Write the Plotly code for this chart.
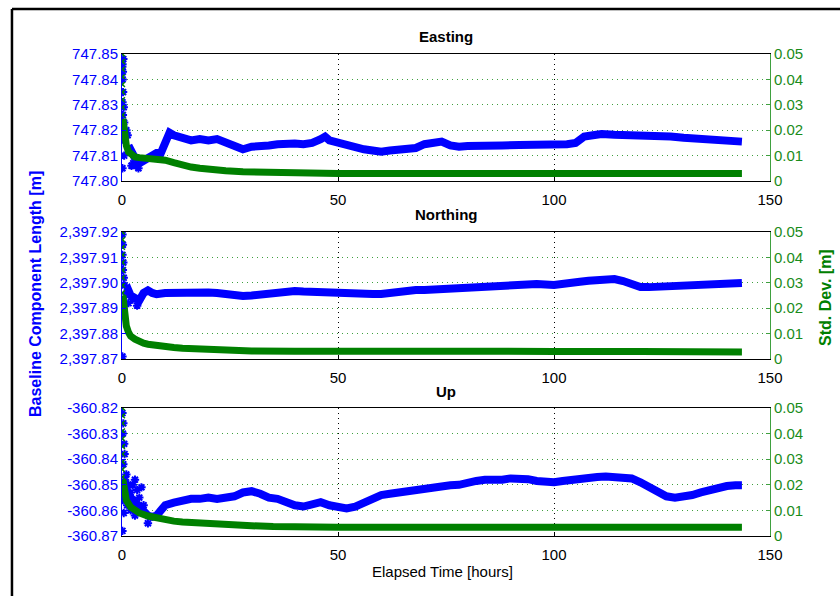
import plotly.graph_objects as go

# ---------------- DATA ----------------
x_ticks = [0, 50, 100, 150]
std_ticks = [0, 0.01, 0.02, 0.03, 0.04, 0.05]
std_ticktext = ["0", "0.01", "0.02", "0.03", "0.04", "0.05"]

east_ticks = [747.80, 747.81, 747.82, 747.83, 747.84, 747.85]
north_ticks = [2397.87, 2397.88, 2397.89, 2397.90, 2397.91, 2397.92]
up_ticks = [-360.87, -360.86, -360.85, -360.84, -360.83, -360.82]
up_ticktext = ["-360.87", "-360.86", "-360.85", "-360.84", "-360.83", "-360.82"]

# Easting
east_hours = [1.5, 2, 3, 4, 5, 6, 7, 8, 9, 10, 11, 12, 14, 16, 18, 20, 22, 24, 26, 28, 30, 32, 34, 36,
              38, 40, 42, 44, 46, 47, 48, 50, 52, 54, 56, 58, 60, 62, 64, 66, 68, 70, 72, 74, 76, 78,
              80, 84, 88, 92, 96, 100, 103, 105, 107, 109, 111, 114, 117, 120, 123, 125, 127, 130,
              133, 136, 139, 141, 143.5]
east_len = [747.814, 747.812, 747.809, 747.807, 747.808, 747.809, 747.810, 747.811, 747.811, 747.815,
            747.819, 747.818, 747.817, 747.816, 747.8165, 747.816, 747.8165, 747.815, 747.814, 747.8125,
            747.8135, 747.8135, 747.814, 747.8145, 747.815, 747.8148, 747.8145, 747.815, 747.8165,
            747.8175, 747.816, 747.815, 747.8145, 747.8135, 747.8125, 747.812, 747.8115, 747.812,
            747.8125, 747.8125, 747.813, 747.8145, 747.815, 747.8155, 747.814, 747.8135, 747.8138,
            747.8142, 747.814, 747.8142, 747.8142, 747.8143, 747.8145, 747.815, 747.8175, 747.818,
            747.8185, 747.8182, 747.818, 747.8178, 747.818, 747.8182, 747.8175, 747.817, 747.8168,
            747.8165, 747.8165, 747.816, 747.8155]
east_early_hours = [0.05, 0.1, 0.2, 0.3, 0.15, 0.25, 0.1, 0.4, 0.2, 0.5, 0.1, 0.3, 0.6, 1.0, 1.3, 0.5,
                    2.2, 2.6, 3.3, 3.8]
east_early_len = [747.845, 747.846, 747.843, 747.848, 747.840, 747.835, 747.831, 747.829, 747.826,
                  747.823, 747.805, 747.818, 747.816, 747.820, 747.818, 747.810, 747.806, 747.807,
                  747.806, 747.805]
east_std_hours = [0.2, 0.5, 1, 1.5, 2, 3, 4, 6, 8, 10, 12, 14, 16, 18, 20, 24, 28, 32, 36, 40, 50, 60,
                  70, 80, 90, 100, 110, 120, 130, 143.5]
east_std = [0.0245, 0.019, 0.014, 0.0115, 0.0105, 0.0095, 0.0092, 0.009, 0.0088, 0.0082, 0.0072,
            0.0062, 0.0055, 0.005, 0.0045, 0.004, 0.0036, 0.0034, 0.0032, 0.0031, 0.003, 0.003, 0.003,
            0.003, 0.003, 0.003, 0.003, 0.0029, 0.0029, 0.003]
east_std_early = [0.05, 0.047, 0.044, 0.041, 0.038, 0.035, 0.032, 0.029, 0.026]

# Northing
north_hours = [0.5, 1, 1.5, 2, 3, 4, 5, 6, 7, 8, 10, 12, 14, 16, 18, 20, 22, 24, 26, 28, 30, 32, 34, 36,
               38, 40, 42, 44, 46, 48, 50, 52, 54, 56, 58, 60, 62, 64, 66, 68, 70, 72, 74, 76, 78, 80,
               84, 88, 92, 96, 100, 102, 104, 106, 108, 110, 112, 114, 116, 118, 120, 122, 124, 126,
               128, 130, 134, 138, 141, 143.5]
north_len = [2397.897, 2397.896, 2397.897, 2397.895, 2397.894, 2397.893, 2397.896, 2397.897, 2397.896,
             2397.8955, 2397.896, 2397.8962, 2397.8958, 2397.8962, 2397.8965, 2397.8962, 2397.896,
             2397.8955, 2397.895, 2397.8948, 2397.895, 2397.8955, 2397.896, 2397.8962, 2397.8965,
             2397.8968, 2397.8966, 2397.8964, 2397.8962, 2397.8963, 2397.8964, 2397.896, 2397.8958,
             2397.8955, 2397.8956, 2397.8956, 2397.896, 2397.8966, 2397.8972, 2397.8972, 2397.8972,
             2397.8974, 2397.8976, 2397.8978, 2397.8978, 2397.898, 2397.8987, 2397.8987, 2397.899,
             2397.8995, 2397.8991, 2397.8993, 2397.8999, 2397.9004, 2397.9008, 2397.9011, 2397.9015,
             2397.9015, 2397.9007, 2397.8995, 2397.8983, 2397.8983, 2397.8984, 2397.8985, 2397.8988,
             2397.8991, 2397.8995, 2397.8998, 2397.8999, 2397.8999]
north_early_hours = [0.1, 0.2, 0.1, 0.3, 0.2, 0.4, 0.1, 0.3, 0.5, 0.2, 0.6, 1.5, 2.5, 3.5]
north_early_len = [2397.919, 2397.915, 2397.911, 2397.908, 2397.905, 2397.902, 2397.871, 2397.893,
                   2397.891, 2397.889, 2397.899, 2397.892, 2397.8935, 2397.891]
north_std_hours = [0.2, 0.5, 1, 1.5, 2, 3, 4, 5, 6, 8, 10, 12, 14, 16, 20, 25, 30, 40, 50, 60, 80, 100,
                   120, 127, 128, 143.5]
north_std = [0.025, 0.019, 0.013, 0.0105, 0.009, 0.0078, 0.0068, 0.0062, 0.0058, 0.0052, 0.0048,
             0.0045, 0.0042, 0.004, 0.0036, 0.0034, 0.0032, 0.0031, 0.003, 0.003, 0.003, 0.003, 0.003,
             0.003, 0.0028, 0.0028]
north_std_early = [0.05, 0.047, 0.044, 0.041, 0.038, 0.035, 0.032, 0.029, 0.026]

# Up
up_hours = [0.5, 1, 2, 3, 4, 5, 6, 7, 8, 9, 10, 12, 14, 16, 18, 20, 22, 24, 26, 28, 30, 32, 34, 36, 38,
            40, 42, 44, 46, 48, 50, 52, 54, 56, 58, 60, 62, 64, 66, 68, 70, 72, 74, 76, 78, 80, 82, 84,
            86, 88, 90, 92, 94, 96, 98, 100, 102, 104, 106, 108, 110, 112, 114, 116, 118, 120, 122,
            124, 126, 128, 130, 132, 134, 136, 138, 140, 142, 143.5]
up_len = [-360.848, -360.852, -360.855, -360.857, -360.858, -360.860, -360.862, -360.8625, -360.862,
          -360.860, -360.858, -360.857, -360.856, -360.8555, -360.8555, -360.855, -360.8555, -360.855,
          -360.8545, -360.853, -360.8525, -360.8535, -360.855, -360.8555, -360.857, -360.858,
          -360.8585, -360.8575, -360.8568, -360.858, -360.859, -360.8592, -360.8585, -360.857,
          -360.855, -360.854, -360.8535, -360.853, -360.852, -360.8518, -360.851, -360.851,
          -360.8505, -360.8502, -360.850, -360.849, -360.8485, -360.848, -360.8482, -360.848,
          -360.8475, -360.8475, -360.8478, -360.8485, -360.849, -360.849, -360.8485, -360.848,
          -360.8475, -360.847, -360.847, -360.8468, -360.8468, -360.847, -360.8475, -360.849,
          -360.851, -360.853, -360.8545, -360.855, -360.8548, -360.854, -360.853, -360.852, -360.851,
          -360.8505, -360.8502, -360.8502]
up_early_hours = [0.1, 0.3, 0.2, 0.5, 0.6, 0.3, 0.1, 0.4, 0.2, 0.7, 1.0, 1.5, 2.0, 2.5, 3.0, 3.5, 4.0,
                  4.5, 5.0, 3.0, 2.0, 6.0, 1.2]
up_early_len = [-360.822, -360.826, -360.830, -360.834, -360.838, -360.842, -360.868, -360.861,
                -360.856, -360.848, -360.846, -360.850, -360.853, -360.850, -360.848, -360.852,
                -360.855, -360.851, -360.858, -360.862, -360.860, -360.865, -360.858]
up_std_hours = [0.2, 0.5, 1, 2, 3, 4, 6, 8, 10, 12, 14, 17, 20, 25, 30, 35, 40, 50, 60, 80, 100, 120,
                143.5]
up_std = [0.022, 0.018, 0.014, 0.0113, 0.0098, 0.009, 0.0078, 0.007, 0.0063, 0.0058, 0.0055, 0.0051,
          0.0048, 0.0044, 0.004, 0.0037, 0.0035, 0.0034, 0.0034, 0.0034, 0.0034, 0.0034, 0.0034]
up_std_early = [0.05, 0.047, 0.044, 0.041, 0.038, 0.035, 0.032, 0.029, 0.026, 0.023]

panel_titles = ["Easting", "Northing", "Up"]

# ---------------- STYLE ----------------
BLUE = "#0000ff"
GREEN = "#008000"
GREEN_TXT = "#1a8c1a"
GREEN_LINE = "#3fa03f"
FONT = "Liberation Sans, Arial, sans-serif"

fig = go.Figure()

panels = [
    dict(h=east_hours, v=east_len, eh=east_early_hours, ev=east_early_len,
         sh=east_std_hours, s=east_std, se=east_std_early, ticks=east_ticks,
         text=None, fmt=".2f"),
    dict(h=north_hours, v=north_len, eh=north_early_hours, ev=north_early_len,
         sh=north_std_hours, s=north_std, se=north_std_early, ticks=north_ticks,
         text=None, fmt=",.2f"),
    dict(h=up_hours, v=up_len, eh=up_early_hours, ev=up_early_len,
         sh=up_std_hours, s=up_std, se=up_std_early, ticks=up_ticks,
         text=up_ticktext, fmt=".2f"),
]

domains = [[0.7365, 1.0], [0.3672, 0.6307], [0.0, 0.2656]]

for i, p in enumerate(panels):
    xa = "x" if i == 0 else f"x{i+1}"
    ya = "y" if i == 0 else f"y{i+1}"
    yr = f"y{i+4}"
    fig.add_trace(go.Scatter(x=p["h"], y=p["v"], mode="lines", xaxis=xa, yaxis=ya,
                             line=dict(color=BLUE, width=8), showlegend=False, hoverinfo="skip"))
    fig.add_trace(go.Scatter(x=p["eh"], y=p["ev"], mode="markers", xaxis=xa, yaxis=ya,
                             marker=dict(symbol="asterisk-open", size=7, color=BLUE,
                                         line=dict(color=BLUE, width=2)),
                             showlegend=False, hoverinfo="skip"))
    fig.add_trace(go.Scatter(x=p["sh"], y=p["s"], mode="lines", xaxis=xa, yaxis=yr,
                             line=dict(color=GREEN, width=7), showlegend=False, hoverinfo="skip"))
    fig.add_trace(go.Scatter(x=[0.1] * len(p["se"]), y=p["se"], mode="markers", xaxis=xa, yaxis=yr,
                             marker=dict(symbol="x-thin-open", size=5, color=GREEN,
                                         line=dict(color=GREEN, width=1.5)),
                             showlegend=False, hoverinfo="skip"))

    xkey = "xaxis" if i == 0 else f"xaxis{i+1}"
    ykey = "yaxis" if i == 0 else f"yaxis{i+1}"
    rkey = f"yaxis{i+4}"
    fig.layout[xkey] = dict(domain=[0, 1], anchor=ya, range=[0, 150], tickvals=x_ticks,
                            showgrid=True, gridcolor="#000000", griddash="1px,4px", gridwidth=1,
                            showline=True, linecolor="#000000", linewidth=1, mirror=True,
                            ticks="inside", ticklen=4, tickcolor="#000000", automargin=False,
                            ticklabelstandoff=5,
                            tickfont=dict(family=FONT, size=15, color="#000000"), zeroline=False)
    ydict = dict(domain=domains[i], anchor=xa, range=[p["ticks"][0], p["ticks"][-1]],
                 tickvals=p["ticks"], tickformat=p["fmt"], showgrid=False,
                 showline=True, linecolor=BLUE, linewidth=1, ticks="inside",
                 ticklen=4, tickcolor=BLUE, automargin=False,
                 tickfont=dict(family=FONT, size=15, color=BLUE), zeroline=False)
    if p["text"] is not None:
        ydict["ticktext"] = p["text"]
    fig.layout[ykey] = ydict
    fig.layout[rkey] = dict(overlaying=ya, side="right", anchor=xa, range=[0, 0.05],
                            tickvals=std_ticks, ticktext=std_ticktext, showgrid=True,
                            gridcolor=GREEN_LINE, griddash="1px,4px", gridwidth=1,
                            showline=True, linecolor=GREEN_LINE, linewidth=1, ticks="inside",
                            ticklen=4, tickcolor=GREEN_LINE, automargin=False,
                            tickfont=dict(family=FONT, size=15, color=GREEN_TXT), zeroline=False)

annotations = []
title_y = [1.0353, 0.668, 0.3008]
for t, yy in zip(panel_titles, title_y):
    annotations.append(dict(text=f"<b>{t}</b>", x=0.5, y=yy, xref="paper", yref="paper",
                            showarrow=False, xanchor="center", yanchor="middle",
                            font=dict(family=FONT, size=15, color="#000000")))
annotations.append(dict(text="Elapsed Time [hours]", x=0.495, y=-0.073, xref="paper", yref="paper",
                        showarrow=False, xanchor="center", yanchor="middle",
                        font=dict(family=FONT, size=15, color="#000000")))
annotations.append(dict(text="<b>Baseline Component Length [m]</b>", x=-0.1343, y=0.502,
                        xref="paper", yref="paper", showarrow=False, textangle=-90,
                        xanchor="center", yanchor="middle",
                        font=dict(family=FONT, size=16, color=BLUE)))
annotations.append(dict(text="<b>Std. Dev. [m]</b>", x=1.0864, y=0.496,
                        xref="paper", yref="paper", showarrow=False, textangle=-90,
                        xanchor="center", yanchor="middle",
                        font=dict(family=FONT, size=16, color=GREEN)))

shapes = [
    dict(type="line", xref="paper", yref="paper", x0=-0.1698, x1=-0.1698, y0=1.0934, y1=-0.13,
         line=dict(color="#000000", width=2.5)),
    dict(type="line", xref="paper", yref="paper", x0=-0.1698, x1=1.11, y0=1.0934, y1=1.0934,
         line=dict(color="#000000", width=2.5)),
]

fig.update_layout(width=840, height=596, margin=dict(l=122, r=70, t=54, b=60, autoexpand=False),
                  plot_bgcolor="#ffffff", paper_bgcolor="#ffffff",
                  annotations=annotations, shapes=shapes, showlegend=False,
                  font=dict(family=FONT))

fig.write_html("out.html", config={"displayModeBar": False},
               post_script="document.body.style.margin='0';document.body.style.overflow='hidden';")
